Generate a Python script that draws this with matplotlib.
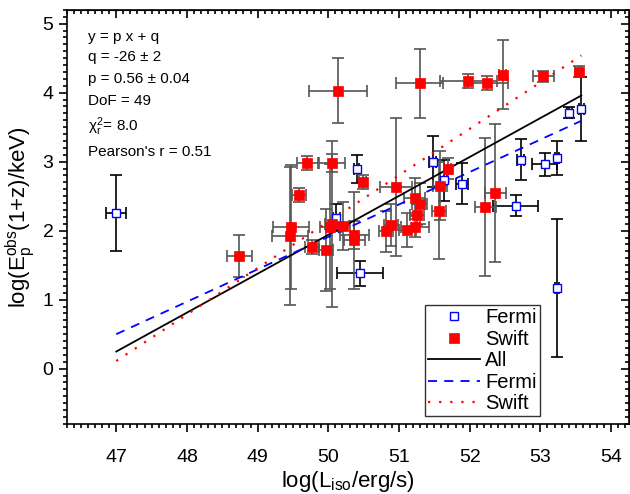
import matplotlib
matplotlib.use("Agg")
import numpy as np
import matplotlib.pyplot as plt
from matplotlib.ticker import MultipleLocator

plt.rcParams['font.family'] = ['Liberation Sans', 'DejaVu Sans']
plt.rcParams['mathtext.fontset'] = 'custom'
plt.rcParams['mathtext.rm'] = 'Liberation Sans'
plt.rcParams['mathtext.it'] = 'Liberation Sans'

# Fermi sample
fermi_x = [47.00, 50.40, 50.45, 50.11, 51.48, 51.63, 51.89, 52.65, 52.72, 53.06, 53.23, 53.23, 53.41, 53.58]
fermi_y = [2.25, 2.89, 1.38, 2.19, 3.00, 2.73, 2.68, 2.36, 3.03, 2.96, 3.05, 1.17, 3.71, 3.76]
fermi_xerr = [0.14, 0.03, 0.33, 0.05, 0.05, 0.05, 0.08, 0.32, 0.05, 0.18, 0.03, 0.03, 0.04, 0.03]
fermi_yerr = [0.55, 0.20, 0.18, 0.20, 0.37, 0.30, 0.30, 0.15, 0.30, 0.17, 0.25, 1.00, 0.08, 0.46]

# Swift sample
swift_x = [48.74, 49.46, 49.47, 49.59, 49.70, 49.77, 49.97, 50.03, 50.05, 50.05, 50.14, 50.21,
           50.37, 50.37, 50.49, 50.82, 50.89, 50.96, 51.12, 51.22, 51.23, 51.25, 51.29, 51.29,
           51.56, 51.58, 51.69, 51.98, 52.22, 52.24, 52.36, 52.47, 53.04, 53.54]
swift_y = [1.63, 1.92, 2.05, 2.52, 2.98, 1.76, 1.72, 2.06, 2.10, 2.98, 4.03, 2.07,
           1.94, 1.86, 2.71, 1.99, 2.08, 2.64, 2.01, 2.47, 2.06, 2.23, 2.39, 4.14,
           2.29, 2.65, 2.90, 4.17, 2.34, 4.14, 2.55, 4.26, 4.24, 4.30]
swift_xerr = [0.18, 0.25, 0.25, 0.10, 0.15, 0.10, 0.10, 0.15, 0.10, 0.18, 0.41, 0.10,
              0.20, 0.15, 0.05, 0.10, 0.10, 0.23, 0.12, 0.15, 0.20, 0.10, 0.10, 0.33,
              0.10, 0.10, 0.05, 0.40, 0.15, 0.30, 0.15, 0.05, 0.15, 0.05]
swift_yerr = [0.30, 1.00, 0.90, 0.10, 0.10, 0.10, 0.60, 0.90, 1.20, 0.13, 0.47, 0.35,
              0.20, 0.70, 0.10, 0.30, 0.30, 1.00, 0.25, 0.30, 0.15, 0.15, 0.30, 0.50,
              0.70, 0.50, 0.15, 0.10, 1.00, 0.10, 1.00, 0.50, 0.08, 0.08]

# linear fits y = p x + q
fit_all = (0.564, -26.26)
fit_fermi = (0.47, -21.59)
fit_swift = (0.673, -31.52)
fit_range = [47.0, 53.58]

fig = plt.figure(figsize=(6.3, 4.94), dpi=100)
ax = fig.add_axes([0.106, 0.142, 0.892, 0.838])

ax.errorbar(fermi_x, fermi_y, xerr=fermi_xerr, yerr=fermi_yerr, fmt='none',
            ecolor='black', elinewidth=1.2, capsize=4, capthick=1.2, zorder=2)
ax.errorbar(swift_x, swift_y, xerr=swift_xerr, yerr=swift_yerr, fmt='none',
            ecolor='#555555', elinewidth=1.2, capsize=4, capthick=1.2, zorder=2)

ax.plot(fermi_x, fermi_y, 's', ms=6, mfc='white', mec='blue', mew=1.0,
        ls='none', label='Fermi', zorder=4)
ax.plot(swift_x, swift_y, 's', ms=7.5, mfc='red', mec='red', mew=0.5,
        ls='none', label='Swift', zorder=4)

xx = np.array(fit_range)
ax.plot(xx, fit_all[0] * xx + fit_all[1], '-', color='black', lw=1.3, label='All', zorder=3)
ax.plot(xx, fit_fermi[0] * xx + fit_fermi[1], '--', color='blue', lw=1.3,
        dashes=(5, 4), label='Fermi', zorder=3)
ax.plot(xx, fit_swift[0] * xx + fit_swift[1], ':', color='red', lw=1.6,
        dashes=(1, 4), label='Swift', zorder=3)

ax.set_xlim(46.3, 54.25)
ax.set_ylim(-0.8, 5.2)
ax.xaxis.set_major_locator(MultipleLocator(1))
ax.xaxis.set_minor_locator(MultipleLocator(0.1))
ax.yaxis.set_major_locator(MultipleLocator(1))
ax.yaxis.set_minor_locator(MultipleLocator(0.1))
ax.tick_params(which='both', direction='out', top=False, right=False, labelsize=14, width=1.2)
ax.tick_params(which='major', length=6)
ax.tick_params(axis='x', pad=12)
ax.tick_params(which='minor', length=3)
for s in ax.spines.values():
    s.set_linewidth(1.2)

# inward ticks on top and right
sec_x = ax.secondary_xaxis('top')
sec_x.xaxis.set_major_locator(MultipleLocator(1))
sec_x.xaxis.set_minor_locator(MultipleLocator(0.1))
sec_x.tick_params(which='both', direction='in', labeltop=False, width=1.2)
sec_x.tick_params(which='major', length=6)
sec_x.tick_params(which='minor', length=3)
sec_y = ax.secondary_yaxis('right')
sec_y.yaxis.set_major_locator(MultipleLocator(1))
sec_y.yaxis.set_minor_locator(MultipleLocator(0.1))
sec_y.tick_params(which='both', direction='in', labelright=False, width=1.2)
sec_y.tick_params(which='major', length=6)
sec_y.tick_params(which='minor', length=3)

ax.set_xlabel(r'log(L$_{\rm iso}$/erg/s)', fontsize=16, labelpad=2)
ax.set_ylabel(r'log(E$_{\rm p}^{\rm obs}$(1+z)/keV)', fontsize=16, labelpad=4)

stats = ['y = p x + q', 'q = -26 ± 2', 'p = 0.56 ± 0.04', 'DoF = 49',
         r'$\chi_{\rm r}^{2}$= 8.0', "Pearson's r = 0.51"]
stat_y = [0.935, 0.886, 0.833, 0.780, 0.718, 0.657]
for t, yy in zip(stats, stat_y):
    ax.text(0.038, yy, t, transform=ax.transAxes, fontsize=11, va='center', ha='left')

leg = ax.legend(loc='lower left', bbox_to_anchor=(0.637, 0.019), fontsize=14.5,
                frameon=True, fancybox=False, edgecolor='black', handlelength=2.6,
                borderpad=0.15, labelspacing=0.12, handletextpad=0.25, borderaxespad=0)
leg.get_frame().set_linewidth(1.0)

fig.savefig('out.png', dpi=100)
